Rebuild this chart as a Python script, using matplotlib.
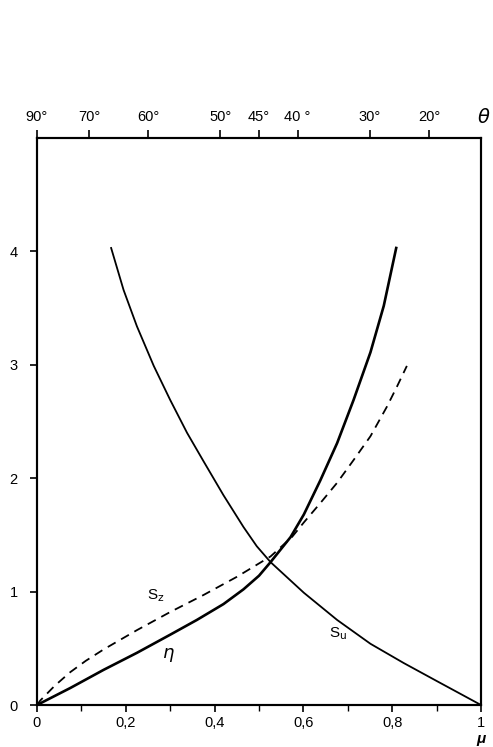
# Recreation of the eta / S_z / S_u versus mu chart (theta on top, mu = cos^2 theta)
import numpy as np
import matplotlib
matplotlib.use("Agg")
import matplotlib.pyplot as plt

plt.rcParams['font.family'] = ['Liberation Sans', 'DejaVu Sans']

# eta (solid, thick)
eta_mu = [0.0, 0.075, 0.150, 0.225, 0.300, 0.360, 0.420, 0.465, 0.500, 0.526,
          0.571, 0.601, 0.638, 0.676, 0.713, 0.751, 0.781, 0.809]
eta_val = [0.0, 0.15, 0.31, 0.46, 0.62, 0.75, 0.89, 1.02, 1.14, 1.26,
           1.48, 1.68, 1.98, 2.31, 2.69, 3.11, 3.52, 4.03]

# S_z (dashed)
sz_mu = [0.0, 0.0075, 0.040, 0.075, 0.110, 0.150, 0.225, 0.300, 0.375, 0.450,
         0.526, 0.574, 0.601, 0.638, 0.676, 0.713, 0.751, 0.788, 0.811, 0.833]
sz_val = [0.0, 0.04, 0.17, 0.29, 0.39, 0.49, 0.66, 0.82, 0.97, 1.13,
          1.31, 1.48, 1.61, 1.78, 1.96, 2.16, 2.37, 2.63, 2.81, 2.99]

# S_u (solid, thin)
su_mu = [0.167, 0.195, 0.225, 0.263, 0.300, 0.338, 0.375, 0.420, 0.465, 0.495,
         0.526, 0.601, 0.676, 0.751, 0.826, 0.901, 0.960, 1.0]
su_val = [4.03, 3.66, 3.34, 2.99, 2.69, 2.40, 2.15, 1.85, 1.57, 1.40,
          1.26, 0.99, 0.75, 0.54, 0.37, 0.21, 0.085, 0.0]

# top axis: angles theta, placed at mu = cos^2(theta)
theta_deg = [90, 70, 60, 50, 45, 40, 30, 20]
theta_labels = ['90°', '70°', '60°', '50°', '45°', '40 °', '30°', '20°']

x_major = [0, 0.2, 0.4, 0.6, 0.8, 1]
x_labels = ['0', '0,2', '0,4', '0,6', '0,8', '1']
y_major = [0, 1, 2, 3, 4]

fig = plt.figure(figsize=(4.93, 7.47), dpi=100)
ax = fig.add_axes([0.075, 0.0562, 0.9007, 0.7591])

ax.plot(eta_mu, eta_val, color='black', lw=1.9, solid_joinstyle='round')
ax.plot(su_mu, su_val, color='black', lw=1.3, solid_joinstyle='round')
ax.plot(sz_mu, sz_val, color='black', lw=1.3, linestyle=(0, (5, 3.5)))

ax.set_xlim(0, 1)
ax.set_ylim(0, 5)

for s in ax.spines.values():
    s.set_linewidth(1.5)

ax.set_xticks(x_major)
ax.set_xticklabels(x_labels)
ax.set_xticks([0.1, 0.3, 0.5, 0.7, 0.9], minor=True)
ax.set_yticks(y_major)
ax.tick_params(axis='both', which='major', direction='out', length=5, width=1.2,
               labelsize=10.5, pad=3)
ax.tick_params(axis='x', which='minor', direction='out', length=4, width=1.0)
ax.tick_params(axis='y', pad=9)
ax.tick_params(axis='x', pad=3)

top = ax.twiny()
top.set_xlim(0, 1)
top_pos = [np.cos(np.radians(t)) ** 2 for t in theta_deg]
top.set_xticks(top_pos)
top.set_xticklabels(theta_labels)
top.tick_params(axis='x', direction='out', length=6, width=1.2, labelsize=10.5, pad=4)
for s in top.spines.values():
    s.set_linewidth(1.5)

# curve labels
ax.text(0.267, 0.96, r'S$_{\mathrm{z}}$', fontsize=11, ha='center', va='center')
ax.text(0.297, 0.44, r'$\eta$', fontsize=13, ha='center', va='center')
ax.text(0.679, 0.63, r'S$_{\mathrm{u}}$', fontsize=11, ha='center', va='center')

# axis symbols
fig.text(0.982, 0.843, r'$\theta$', fontsize=14, ha='center', va='center')
fig.text(0.976, 0.002, 'μ', fontsize=11, ha='center', va='bottom',
         fontweight='bold', fontstyle='italic')

fig.savefig('out.png', dpi=100)
